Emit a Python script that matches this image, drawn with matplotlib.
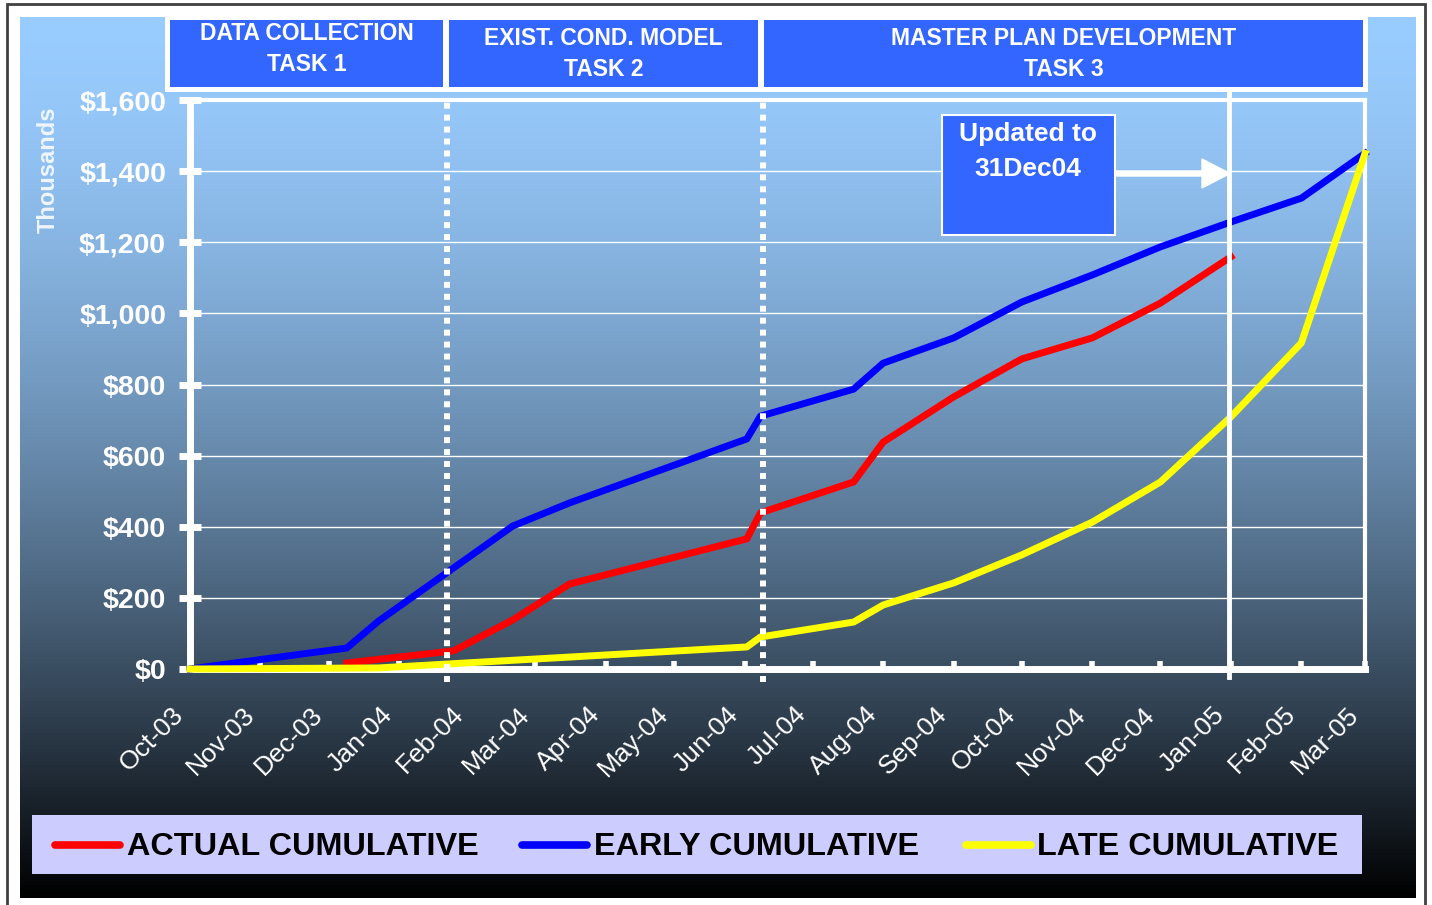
import numpy as np
import pandas as pd
import matplotlib
matplotlib.use('Agg')
import matplotlib.pyplot as plt
import matplotlib.transforms as mtransforms
from matplotlib.patches import Rectangle, FancyArrow
from matplotlib.lines import Line2D

plt.rcParams['font.family'] = ['Liberation Sans', 'DejaVu Sans']

# Данные (тыс. $)
early_dates = ['2003-10-01', '2003-12-09', '2003-12-23', '2004-02-20', '2004-03-16',
               '2004-06-02', '2004-06-08', '2004-07-19', '2004-08-01', '2004-09-01',
               '2004-10-01', '2004-11-01', '2004-12-01', '2005-01-01', '2005-02-01',
               '2005-03-01']
early_vals = [0, 59, 135, 402, 467, 647, 711, 787, 860, 931, 1032, 1108, 1187, 1257, 1324, 1450]

actual_dates = ['2003-12-09', '2004-01-25', '2004-02-20', '2004-03-16', '2004-06-02',
                '2004-06-08', '2004-07-19', '2004-08-01', '2004-09-01', '2004-10-01',
                '2004-11-01', '2004-12-01', '2005-01-01']
actual_vals = [17, 51, 138, 239, 366, 439, 526, 638, 765, 872, 931, 1029, 1159]

late_dates = ['2003-10-01', '2003-12-23', '2004-06-02', '2004-06-08', '2004-07-19',
              '2004-08-01', '2004-09-01', '2004-10-01', '2004-11-01', '2004-12-01',
              '2005-01-01', '2005-02-01', '2005-03-01']
late_vals = [0, 3, 62, 90, 132, 180, 242, 321, 413, 526, 709, 917, 1450]

month_labels = ['Oct-03', 'Nov-03', 'Dec-03', 'Jan-04', 'Feb-04', 'Mar-04', 'Apr-04',
                'May-04', 'Jun-04', 'Jul-04', 'Aug-04', 'Sep-04', 'Oct-04', 'Nov-04',
                'Dec-04', 'Jan-05', 'Feb-05', 'Mar-05']
y_ticks = [0, 200, 400, 600, 800, 1000, 1200, 1400, 1600]
y_labels = ['$0', '$200', '$400', '$600', '$800', '$1,000', '$1,200', '$1,400', '$1,600']

task_bounds = ['2004-01-22', '2004-06-09']
status_date = '2004-12-31'

W, H = 1432, 905
fig = plt.figure(figsize=(W / 100, H / 100), dpi=100)
fig.patch.set_facecolor('white')


def fx(px):
    return px / W


def fy(py):
    return 1 - py / H


# Рамка
fig.patches.append(Rectangle((7, -20), 1418, H - 4 + 20, transform=mtransforms.IdentityTransform(),
                             fill=False, edgecolor='#404040', lw=2))

# Градиентный фон
bg = fig.add_axes([fx(20), fy(898), fx(1416) - fx(20), fy(17) - fy(898)])
t = np.linspace(0, 1, 500)[:, None]
top = np.array([153, 204, 255]) / 255
shade = 1 - t ** 1.6
grad = shade[..., None] * top[None, None, :]
bg.imshow(grad, aspect='auto', extent=[0, 1, 0, 1])
bg.axis('off')

# Основной график
ax = fig.add_axes([fx(190), fy(669), fx(1365) - fx(190), fy(100) - fy(669)])
ax.set_facecolor('none')

ax.plot(pd.to_datetime(early_dates), early_vals, color='#0000FF', lw=5, zorder=3, clip_on=False)
ax.plot(pd.to_datetime(actual_dates), actual_vals, color='#FF0000', lw=5, zorder=4, clip_on=False)
ax.plot(pd.to_datetime(late_dates), late_vals, color='#FFFF00', lw=5, zorder=5, clip_on=False)

months = pd.date_range('2003-10-01', '2005-03-01', freq='MS')
ax.set_xlim(months[0], months[-1])
ax.set_ylim(0, 1600)

ax.set_xticks(months)
ax.set_xticklabels(month_labels)
ax.set_yticks(y_ticks)
ax.set_yticklabels(y_labels)

ax.yaxis.grid(True, color='white', lw=1)
ax.set_axisbelow(True)

for side in ['left', 'bottom']:
    ax.spines[side].set_color('white')
    ax.spines[side].set_linewidth(5)
for side in ['top', 'right']:
    ax.spines[side].set_color('white')
    ax.spines[side].set_linewidth(3)

ax.tick_params(axis='y', direction='inout', length=16.5, width=5, color='white',
               labelcolor='white', labelsize=20.5, pad=9)
for lab in ax.get_yticklabels():
    lab.set_fontweight('bold')
ax.tick_params(axis='x', direction='in', length=6, width=4, color='white',
               labelcolor='white', labelsize=19, pad=30)
offset = mtransforms.ScaledTranslation(-10 / 100, 0, fig.dpi_scale_trans)
for lab in ax.get_xticklabels():
    lab.set_rotation(45)
    lab.set_ha('right')
    lab.set_va('center')
    lab.set_rotation_mode('anchor')
    lab.set_transform(lab.get_transform() + offset)

# Границы задач и дата обновления
for b in task_bounds:
    ax.axvline(pd.Timestamp(b), ymin=-0.023, ymax=1.005, color='white', lw=4.3,
               linestyle=(0, (1, 1)), clip_on=False, zorder=6)
ax.axvline(pd.Timestamp(status_date), ymin=-0.014, ymax=1.013, color='white', lw=3.5,
           clip_on=False, zorder=6)

# Подпись оси
fig.text(fx(48), fy(170), 'Thousands', rotation=90, ha='center', va='center',
         color='#EEF5FF', fontsize=17, fontweight='bold')

# Блоки задач
fig.patches.append(Rectangle((fx(165), fy(92)), fx(1368) - fx(165), fy(17) - fy(92),
                             transform=fig.transFigure, facecolor='white', edgecolor='none'))
tasks = [(170, 443, 'DATA COLLECTION\nTASK 1', 49),
         (449, 758, 'EXIST. COND. MODEL\nTASK 2', 54),
         (764, 1363, 'MASTER PLAN DEVELOPMENT\nTASK 3', 54)]
for x0, x1, label, yc in tasks:
    fig.patches.append(Rectangle((fx(x0), fy(87)), fx(x1) - fx(x0), fy(20) - fy(87),
                                 transform=fig.transFigure, facecolor='#3366FF', edgecolor='none'))
    fig.text(fx((x0 + x1) / 2), fy(yc), label, ha='center', va='center', color='white',
             fontsize=16.5, fontweight='bold', linespacing=1.45)

# Пометка об обновлении
fig.patches.append(Rectangle((fx(942), fy(235)), fx(1115) - fx(942), fy(115) - fy(235),
                             transform=fig.transFigure, facecolor='#3366FF', edgecolor='white', lw=1.5))
fig.text(fx(1028), fy(134), 'Updated to', ha='center', va='center', color='white',
         fontsize=19, fontweight='bold')
fig.text(fx(1028), fy(169), '31Dec04', ha='center', va='center', color='white',
         fontsize=19, fontweight='bold')
fig.patches.append(FancyArrow(1115, H - 173.5, 115, 0, width=5, head_width=29, head_length=28,
                              length_includes_head=True, color='white',
                              transform=mtransforms.IdentityTransform()))

# Легенда
fig.patches.append(Rectangle((fx(32), fy(874)), fx(1362) - fx(32), fy(815) - fy(874),
                             transform=fig.transFigure, facecolor='#CCCCFF', edgecolor='none'))
legend_items = [(55, 120, 127, '#FF0000', 'ACTUAL CUMULATIVE'),
                (522, 587, 594, '#0000FF', 'EARLY CUMULATIVE'),
                (966, 1031, 1037, '#FFFF00', 'LATE CUMULATIVE')]
for h0, h1, tx, col, label in legend_items:
    fig.lines.append(Line2D([fx(h0), fx(h1)], [fy(845), fy(845)], transform=fig.transFigure,
                            color=col, lw=5.5, solid_capstyle='round'))
    fig.text(fx(tx), fy(847), label, ha='left', va='center', color='black',
             fontsize=23.3, fontweight='bold')

fig.savefig('out.png', dpi=100)
